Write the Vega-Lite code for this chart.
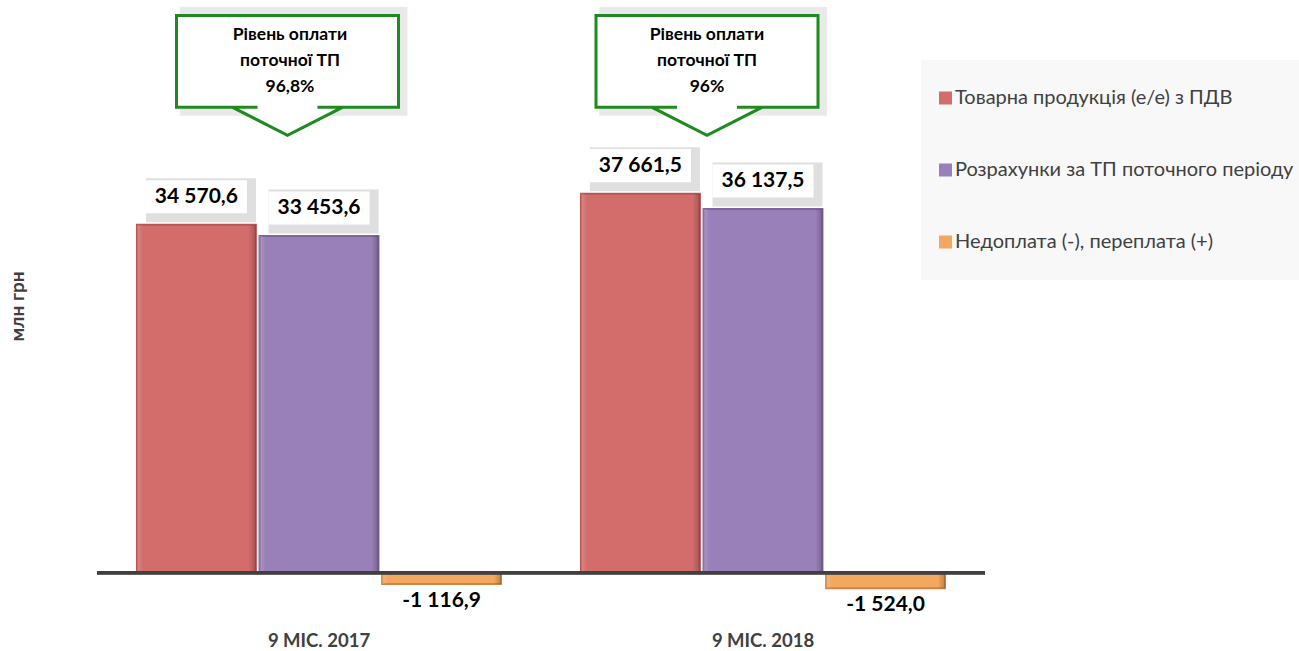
{
  "$schema": "https://vega.github.io/schema/vega-lite/v6.json",
  "width": 888,
  "height": 594,
  "autosize": {"type": "none"},
  "padding": {"left": 97, "top": 9, "right": 314, "bottom": 48},
  "background": "white",
  "datasets": {
    "bars": [
      {"period": "9 МІС. 2017", "series": "Товарна продукція (е/е) з ПДВ", "value": 34570.6},
      {"period": "9 МІС. 2017", "series": "Розрахунки за ТП поточного періоду", "value": 33453.6},
      {"period": "9 МІС. 2017", "series": "Недоплата (-), переплата (+)", "value": -1116.9},
      {"period": "9 МІС. 2018", "series": "Товарна продукція (е/е) з ПДВ", "value": 37661.5},
      {"period": "9 МІС. 2018", "series": "Розрахунки за ТП поточного періоду", "value": 36137.5},
      {"period": "9 МІС. 2018", "series": "Недоплата (-), переплата (+)", "value": -1524.0}
    ],
    "callouts": [
      {"period": "9 МІС. 2017", "callout": "Рівень оплати\nпоточної ТП\n96,8%"},
      {"period": "9 МІС. 2018", "callout": "Рівень оплати\nпоточної ТП\n96%"}
    ]
  },
  "layer": [
    {
      "data": {"name": "bars"},
      "mark": {"type": "bar", "strokeWidth": 2},
      "encoding": {
        "x": {"field": "period", "type": "nominal", "title": null, "scale": {"paddingInner": 0.18, "paddingOuter": 0.09}},
        "xOffset": {"field": "series", "type": "nominal", "sort": ["Товарна продукція (е/е) з ПДВ", "Розрахунки за ТП поточного періоду", "Недоплата (-), переплата (+)"], "scale": {"paddingInner": 0.03}},
        "y": {"field": "value", "type": "quantitative", "title": "млн грн", "scale": {"domain": [-3000, 56000], "nice": false}},
        "color": {
          "field": "series", "type": "nominal",
          "scale": {"domain": ["Товарна продукція (е/е) з ПДВ", "Розрахунки за ТП поточного періоду", "Недоплата (-), переплата (+)"], "range": ["#D26D6B", "#9A80B8", "#F4A75E"]},
          "legend": {
            "orient": "none", "legendX": 824, "legendY": 51, "title": null,
            "fillColor": "#F8F8F8", "padding": 18, "rowPadding": 32,
            "symbolType": "M-1,-1M1,1M-1,-0.325L-0.35,-0.325L-0.35,0.325L-1,0.325Z",
            "symbolSize": 1600, "symbolStrokeWidth": 0, "labelOffset": -24,
            "labelFontSize": 20, "labelColor": "#404040", "labelFont": "Lato", "labelLimit": 500
          }
        },
        "stroke": {
          "field": "series", "type": "nominal", "legend": null,
          "scale": {"domain": ["Товарна продукція (е/е) з ПДВ", "Розрахунки за ТП поточного періоду", "Недоплата (-), переплата (+)"], "range": ["#B45755", "#7D6698", "#C98646"]}
        }
      }
    },
    {
      "data": {"name": "bars"},
      "mark": {
        "type": "bar", "strokeWidth": 0,
        "fill": {"gradient": "linear", "x1": 0, "y1": 0, "x2": 1, "y2": 0,
          "stops": [
            {"offset": 0, "color": "rgba(255,255,255,0.18)"},
            {"offset": 0.05, "color": "rgba(255,255,255,0)"},
            {"offset": 0.94, "color": "rgba(0,0,0,0)"},
            {"offset": 1, "color": "rgba(0,0,0,0.22)"}
          ]}
      },
      "encoding": {
        "x": {"field": "period", "type": "nominal", "title": null},
        "xOffset": {"field": "series", "type": "nominal", "sort": ["Товарна продукція (е/е) з ПДВ", "Розрахунки за ТП поточного періоду", "Недоплата (-), переплата (+)"]},
        "y": {"field": "value", "type": "quantitative", "title": "млн грн"}
      }
    },
    {
      "data": {"name": "bars"},
      "mark": {"type": "rule", "color": "#404040", "strokeWidth": 3},
      "encoding": {"y": {"datum": 0, "type": "quantitative", "title": "млн грн"}}
    },
    {
      "data": {"name": "bars"},
      "transform": [{"filter": "datum.value > 0"}],
      "mark": {"type": "point", "filled": true, "shape": "M-1,-0.366L1.18,-0.366L1.18,0.505L-1,0.505Z", "size": 10201, "color": "#D2D2D2", "opacity": 0.7, "yOffset": -28, "strokeWidth": 0},
      "encoding": {
        "x": {"field": "period", "type": "nominal", "title": null},
        "xOffset": {"field": "series", "type": "nominal", "sort": ["Товарна продукція (е/е) з ПДВ", "Розрахунки за ТП поточного періоду", "Недоплата (-), переплата (+)"]},
        "y": {"field": "value", "type": "quantitative", "title": "млн грн"}
      }
    },
    {
      "data": {"name": "bars"},
      "transform": [{"filter": "datum.value > 0"}],
      "mark": {"type": "point", "filled": true, "shape": "M-1,-0.327L1,-0.327L1,0.327L-1,0.327Z", "size": 10201, "color": "white", "opacity": 1, "yOffset": -28, "strokeWidth": 0},
      "encoding": {
        "x": {"field": "period", "type": "nominal", "title": null},
        "xOffset": {"field": "series", "type": "nominal", "sort": ["Товарна продукція (е/е) з ПДВ", "Розрахунки за ТП поточного періоду", "Недоплата (-), переплата (+)"]},
        "y": {"field": "value", "type": "quantitative", "title": "млн грн"}
      }
    },
    {
      "data": {"name": "bars"},
      "transform": [{"filter": "datum.value > 0"}],
      "mark": {"type": "text", "font": "Lato", "fontWeight": "bold", "fontSize": 21, "color": "#000000", "baseline": "middle", "yOffset": -28},
      "encoding": {
        "x": {"field": "period", "type": "nominal", "title": null},
        "xOffset": {"field": "series", "type": "nominal", "sort": ["Товарна продукція (е/е) з ПДВ", "Розрахунки за ТП поточного періоду", "Недоплата (-), переплата (+)"]},
        "y": {"field": "value", "type": "quantitative", "title": "млн грн"},
        "text": {"field": "value", "type": "quantitative", "format": ",.1f"}
      }
    },
    {
      "data": {"name": "bars"},
      "transform": [{"filter": "datum.value < 0"}],
      "mark": {"type": "text", "font": "Lato", "fontWeight": "bold", "fontSize": 21, "color": "#000000", "baseline": "middle", "yOffset": 17},
      "encoding": {
        "x": {"field": "period", "type": "nominal", "title": null},
        "xOffset": {"field": "series", "type": "nominal", "sort": ["Товарна продукція (е/е) з ПДВ", "Розрахунки за ТП поточного періоду", "Недоплата (-), переплата (+)"]},
        "y": {"field": "value", "type": "quantitative", "title": "млн грн"},
        "text": {"field": "value", "type": "quantitative", "format": ",.1f"}
      }
    },
    {
      "data": {"name": "callouts"},
      "transform": [{"filter": "datum.period == '9 МІС. 2017'"}],
      "layer": [
        {
          "mark": {"type": "point", "filled": true, "shape": "M-0.97,-0.49L1.08,-0.49L1.08,0.49L-0.97,0.49Z", "size": 49284, "color": "#E4E4E4", "opacity": 0.8, "strokeWidth": 0, "xOffset": -31.5},
          "encoding": {"x": {"field": "period", "type": "nominal", "title": null}, "y": {"datum": 50800, "type": "quantitative", "title": "млн грн"}}
        },
        {
          "mark": {"type": "point", "filled": false, "shape": "M-1,-0.414L1,-0.414L1,0.414L0.495,0.414L0,0.667L-0.495,0.414L-1,0.414ZM-0.495,0.414L-0.27,0.414M0.27,0.414L0.495,0.414", "size": 49284, "fill": "white", "fillOpacity": 1, "stroke": "#1F8A1F", "strokeWidth": 3, "opacity": 1, "xOffset": -31.5},
          "encoding": {"x": {"field": "period", "type": "nominal", "title": null}, "y": {"datum": 50800, "type": "quantitative", "title": "млн грн"}}
        },
        {
          "mark": {"type": "text", "font": "Lato", "fontWeight": "bold", "fontSize": 17.5, "lineHeight": 26, "lineBreak": "\n", "color": "#000000", "baseline": "middle", "xOffset": -29, "yOffset": -26},
          "encoding": {"x": {"field": "period", "type": "nominal", "title": null}, "y": {"datum": 50800, "type": "quantitative", "title": "млн грн"}, "text": {"field": "callout", "type": "nominal"}}
        }
      ]
    },
    {
      "data": {"name": "callouts"},
      "transform": [{"filter": "datum.period == '9 МІС. 2018'"}],
      "layer": [
        {
          "mark": {"type": "point", "filled": true, "shape": "M-0.97,-0.49L1.08,-0.49L1.08,0.49L-0.97,0.49Z", "size": 49284, "color": "#E4E4E4", "opacity": 0.8, "strokeWidth": 0, "xOffset": -56},
          "encoding": {"x": {"field": "period", "type": "nominal", "title": null}, "y": {"datum": 50800, "type": "quantitative", "title": "млн грн"}}
        },
        {
          "mark": {"type": "point", "filled": false, "shape": "M-1,-0.414L1,-0.414L1,0.414L0.495,0.414L0,0.667L-0.495,0.414L-1,0.414ZM-0.495,0.414L-0.27,0.414M0.27,0.414L0.495,0.414", "size": 49284, "fill": "white", "fillOpacity": 1, "stroke": "#1F8A1F", "strokeWidth": 3, "opacity": 1, "xOffset": -56},
          "encoding": {"x": {"field": "period", "type": "nominal", "title": null}, "y": {"datum": 50800, "type": "quantitative", "title": "млн грн"}}
        },
        {
          "mark": {"type": "text", "font": "Lato", "fontWeight": "bold", "fontSize": 17.5, "lineHeight": 26, "lineBreak": "\n", "color": "#000000", "baseline": "middle", "xOffset": -56, "yOffset": -26},
          "encoding": {"x": {"field": "period", "type": "nominal", "title": null}, "y": {"datum": 50800, "type": "quantitative", "title": "млн грн"}, "text": {"field": "callout", "type": "nominal"}}
        }
      ]
    }
  ],
  "config": {
    "font": "Lato",
    "view": {"stroke": null},
    "locale": {"number": {"decimal": ",", "thousands": " ", "grouping": [3], "currency": ["", ""], "minus": "-"}},
    "axisY": {"labels": false, "ticks": false, "domain": false, "grid": false, "titlePadding": 70, "titleFont": "Lato", "titleFontSize": 19, "titleFontWeight": "bold", "titleColor": "#404040"},
    "axisX": {"ticks": false, "domain": false, "grid": false, "labelPadding": 28, "labelAngle": 0, "labelFont": "Lato", "labelFontSize": 18.5, "labelFontWeight": "bold", "labelColor": "#404040"}
  }
}
